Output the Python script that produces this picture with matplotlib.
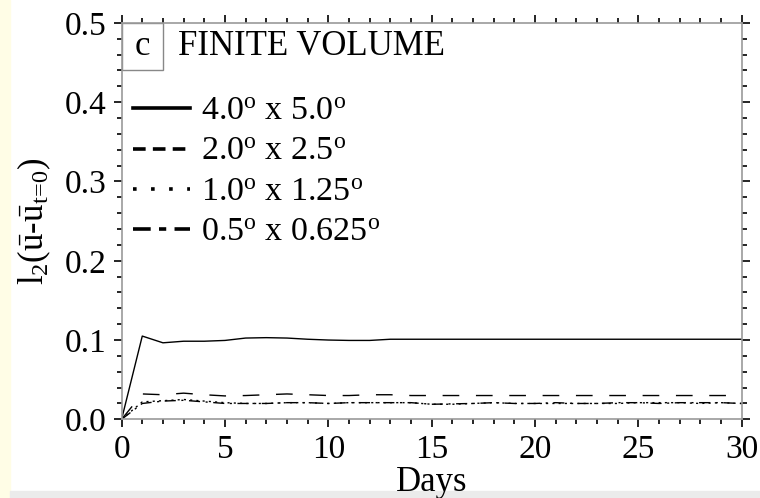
import matplotlib
matplotlib.use('Agg')
import matplotlib.pyplot as plt
from matplotlib.lines import Line2D
from matplotlib.patches import Rectangle
from matplotlib.ticker import MultipleLocator
import numpy as np

plt.rcParams['font.family'] = 'Liberation Serif'
plt.rcParams['mathtext.fontset'] = 'custom'
plt.rcParams['mathtext.rm'] = 'Liberation Serif'
plt.rcParams['mathtext.it'] = 'Liberation Serif:italic'

# l2 error norm per day for each resolution
days = np.arange(31)
res_4x5 = [0.0, 0.105, 0.0965, 0.0985, 0.0985, 0.0995, 0.1025, 0.103, 0.1025, 0.101, 0.100,
           0.0995, 0.0995, 0.101, 0.101, 0.101, 0.101, 0.101, 0.101, 0.101, 0.101,
           0.101, 0.101, 0.101, 0.101, 0.101, 0.101, 0.101, 0.101, 0.101, 0.101]
res_2x25 = [0.0, 0.032, 0.031, 0.033, 0.031, 0.0295, 0.030, 0.031, 0.032, 0.031, 0.030,
            0.030, 0.031, 0.031, 0.030, 0.030, 0.030, 0.030, 0.030, 0.030, 0.030,
            0.030, 0.030, 0.030, 0.030, 0.030, 0.030, 0.030, 0.030, 0.030, 0.030]
res_1x125 = [0.0, 0.022, 0.0235, 0.025, 0.023, 0.021, 0.020, 0.020, 0.021, 0.021, 0.020,
             0.021, 0.021, 0.021, 0.021, 0.019, 0.019, 0.020, 0.021, 0.020, 0.020,
             0.020, 0.020, 0.020, 0.020, 0.021, 0.021, 0.021, 0.020, 0.021, 0.020]
res_05x0625 = [0.0, 0.020, 0.023, 0.024, 0.022, 0.020, 0.020, 0.020, 0.021, 0.021, 0.020,
               0.021, 0.021, 0.021, 0.021, 0.019, 0.0195, 0.020, 0.021, 0.020, 0.020,
               0.021, 0.020, 0.020, 0.021, 0.021, 0.020, 0.021, 0.021, 0.021, 0.020]
labels = [r'4.0$^{\rm o}$ x 5.0$^{\rm o}$', r'2.0$^{\rm o}$ x 2.5$^{\rm o}$',
          r'1.0$^{\rm o}$ x 1.25$^{\rm o}$', r'0.5$^{\rm o}$ x 0.625$^{\rm o}$']

fig = plt.figure(figsize=(7.6, 4.98), dpi=100)
fig.patches.append(Rectangle((0, 0), 9.5 / 760, 1, transform=fig.transFigure,
                             color='#fffde6', zorder=-1))
fig.patches.append(Rectangle((9.5 / 760, 0), 1, 7 / 498, transform=fig.transFigure,
                             color='#ebebeb', zorder=-1))
ax = fig.add_axes([0.160, 0.158, 0.816, 0.796])

ax.plot(days, res_4x5, color='k', lw=1.0)
ax.plot(days, res_2x25, color='k', lw=1.0, dashes=(12, 12))
ax.plot(days, res_1x125, color='k', lw=1.0, dashes=(1.5, 3))
ax.plot(days, res_05x0625, color='k', lw=1.0, dashes=(8, 4, 1.5, 4))

ax.set_xlim(0, 30)
ax.set_ylim(0, 0.5)
ax.xaxis.set_major_locator(MultipleLocator(5))
ax.xaxis.set_minor_locator(MultipleLocator(1))
ax.yaxis.set_major_locator(MultipleLocator(0.1))
ax.yaxis.set_minor_locator(MultipleLocator(0.02))
ax.yaxis.set_major_formatter(matplotlib.ticker.FormatStrFormatter('%.1f'))
ax.tick_params(which='both', direction='out', top=True, right=True, color='k',
               labelsize=24, width=1.2)
ax.tick_params(which='major', length=6, pad=5)
ax.tick_params(which='minor', length=3.5)
for s in ax.spines.values():
    s.set_color('#999999')
    s.set_linewidth(1.2)

ax.set_xlabel('Days', fontsize=25, labelpad=1)
ax.set_ylabel(r'l$_2$($\bar{\rm u}$-$\bar{\rm u}_{\rm t\!=\!0}$)', fontsize=25, labelpad=8)

# panel tag and title
ax.add_patch(Rectangle((0, 0.881), 0.0666, 0.119, transform=ax.transAxes,
                       fill=False, edgecolor='#888888', lw=1.0))
ax.text(0.0333, 0.94, 'c', transform=ax.transAxes, fontsize=25, ha='center', va='center')
ax.text(0.091, 0.94, 'FINITE VOLUME', transform=ax.transAxes, fontsize=25,
        ha='left', va='center')

handles = [Line2D([], [], color='k', lw=2.6),
           Line2D([], [], color='k', lw=2.6, dashes=(3.5, 2)),
           Line2D([], [], color='k', lw=2.6, dashes=(1, 4)),
           Line2D([], [], color='k', lw=2.6, dashes=(4.9, 2.3, 2, 2.3))]
ax.legend(handles, labels, loc='upper left', bbox_to_anchor=(0.008, 0.832),
          frameon=False, fontsize=24.5, handlelength=1.65, handletextpad=0.35,
          labelspacing=0.28, borderaxespad=0, borderpad=0.2)

fig.savefig('out.png', dpi=100)
